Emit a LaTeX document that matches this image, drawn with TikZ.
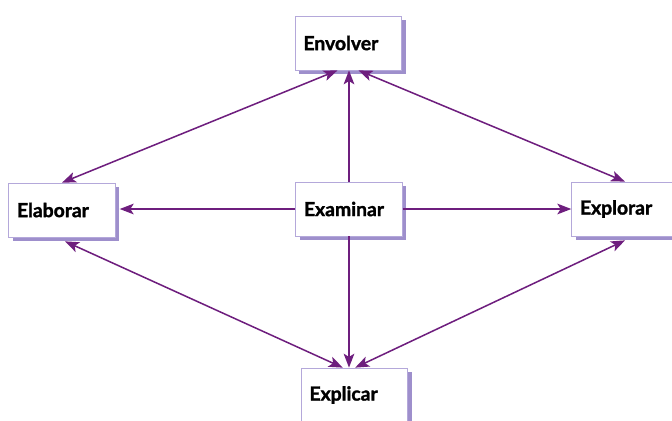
\documentclass[tikz,border=0pt]{standalone}
\usepackage{fontspec}
\setmainfont{Lato}[BoldFeatures={FakeBold=1.6}]
\usetikzlibrary{positioning, shadows, arrows.meta}

\definecolor{linkpurple}{HTML}{6E1E7E}
\definecolor{boxline}{HTML}{B4A8DA}
\definecolor{boxshadow}{HTML}{9E8FCC}

\begin{document}
\begin{tikzpicture}[x=0.03cm, y=-0.03cm,
    box/.style={draw=boxline, fill=white, line width=0.6pt, rectangle,
        minimum width=3.2cm, minimum height=1.62cm, text width=2.7cm,
        inner xsep=0.25cm, align=left, font=\fontsize{16.5}{18}\selectfont\bfseries,
        drop shadow={shadow xshift=0.12cm, shadow yshift=-0.12cm, fill=boxshadow, opacity=1}},
    link/.style={draw=linkpurple, line width=1.3pt,
        arrows={-Stealth[length=0.42cm, width=0.32cm, inset=0.1cm]}},
    twolink/.style={link, arrows={Stealth[length=0.42cm, width=0.32cm, inset=0.1cm]-Stealth[length=0.42cm, width=0.32cm, inset=0.1cm]}}]
    % Fix the frame of the page
    \useasboundingbox (0,0) rectangle (672,421);

    % The five stages
    \node[box] (env) at (348.5,43) {Envolver};
    \node[box] (ela) at (62,210) {Elaborar};
    \node[box] (exa) at (349,209) {Examinar};
    \node[box] (exp) at (625,209) {Explorar};
    \node[box] (exc) at (354.5,395) {Explicar};

    % From the centre outwards
    \draw[link] (exa.north) -- (exa.north |- env.south);
    \draw[link] (exa.west) -- ([xshift=0.12cm]exa.west -| ela.east);
    \draw[link] (exa.east) -- (exa.east -| exp.west);
    \draw[link] (exa.south) -- (exa.south |- exc.north);

    % Round the outside
    \draw[twolink] ([xshift=-0.33cm]env.south) -- (ela.north);
    \draw[twolink] ([xshift=0.3cm]env.south) -- (exp.north);
    \draw[twolink] ([xshift=0.09cm, yshift=-0.12cm]ela.south) -- ([xshift=-0.35cm]exc.north);
    \draw[twolink] ([yshift=-0.12cm]exp.south) -- ([xshift=0.02cm]exc.north);
\end{tikzpicture}
\end{document}
